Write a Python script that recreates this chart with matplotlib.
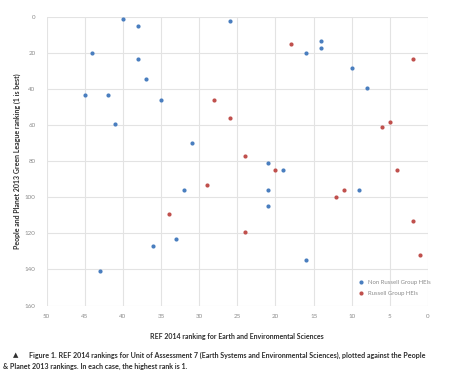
import matplotlib
matplotlib.use('Agg')
import matplotlib.pyplot as plt

plt.rcParams['font.family'] = ['Lato', 'DejaVu Sans']

# --- data: (REF 2014 rank, People & Planet 2013 rank) ---
non_russell_ref = [40, 38, 44, 38, 37, 45, 42, 41, 35, 31, 26, 16, 14, 14, 10, 8,
                   21, 19, 21, 9, 21, 32, 33, 36, 43, 16]
non_russell_pp = [1, 5, 20, 23, 34, 43, 43, 59, 46, 70, 2, 20, 13, 17, 28, 39,
                  81, 85, 96, 96, 105, 96, 123, 127, 141, 135]

russell_ref = [28, 18, 2, 26, 6, 5, 24, 29, 34, 20, 4, 11, 12, 2, 24, 1]
russell_pp = [46, 15, 23, 56, 61, 58, 77, 93, 109, 85, 85, 96, 100, 113, 119, 132]

x_ticks = [50, 45, 40, 35, 30, 25, 20, 15, 10, 5, 0]
y_ticks = [0, 20, 40, 60, 80, 100, 120, 140, 160]

blue = '#4a7ebf'
red = '#c0504d'
tick_grey = '#8c8c8c'
text_dark = '#2e2e2e'

fig = plt.figure(figsize=(4.5, 3.75), dpi=100)
ax = fig.add_axes([46.7 / 450, 1 - 305.5 / 375, (428 - 46.7) / 450, (305.5 - 17.3) / 375])

ax.scatter(non_russell_ref, non_russell_pp, s=9, color=blue, zorder=3,
           linewidths=0, label='Non Russell Group HEIs')
ax.scatter(russell_ref, russell_pp, s=9, color=red, zorder=3,
           linewidths=0, label='Russell Group HEIs')

ax.set_xlim(50, 0)
ax.set_ylim(160, 0)
ax.set_xticks(x_ticks)
ax.set_yticks(y_ticks)
ax.grid(True, color='#e3e3e3', linewidth=0.8, zorder=0)
for s in ax.spines.values():
    s.set_visible(False)
ax.tick_params(length=0, labelsize=4.5, labelcolor=tick_grey, pad=6)
ax.tick_params(axis='y', pad=8)

ax.set_xlabel('REF 2014 ranking for Earth and Environmental Sciences',
              fontsize=5, fontweight='bold', color=text_dark, labelpad=10)
ax.set_ylabel('People and Planet 2013 Green League ranking (1 is best)',
              fontsize=5, fontweight='bold', color=text_dark, labelpad=3)

leg = ax.legend(loc='upper left', bbox_to_anchor=(353 / 450 - 46.7 / 450, 0), frameon=False,
                fontsize=4.3, handletextpad=0.1, labelspacing=1.0,
                markerscale=1.0, borderaxespad=0)
leg.set_bbox_to_anchor(((353 - 46.7) / (428 - 46.7), (305.5 - 277) / (305.5 - 17.3)),
                       transform=ax.transAxes)
for t in leg.get_texts():
    t.set_color(tick_grey)

# caption
fig.text(15.7 / 450, 1 - 355 / 375, '\u25b2', fontsize=5, color=text_dark,
         va='center', ha='center', family=['DejaVu Sans'])
fig.text(29 / 450, 1 - 355 / 375,
         'Figure 1. REF 2014 rankings for Unit of Assessment 7 (Earth Systems and Environmental Sciences), plotted against the People',
         fontsize=5.15, fontweight='bold', color=text_dark, va='center', ha='left')
fig.text(3 / 450, 1 - 366 / 375,
         '& Planet 2013 rankings. In each case, the highest rank is 1.',
         fontsize=5.15, fontweight='bold', color=text_dark, va='center', ha='left')

fig.savefig('out.png', dpi=100, facecolor='white')
